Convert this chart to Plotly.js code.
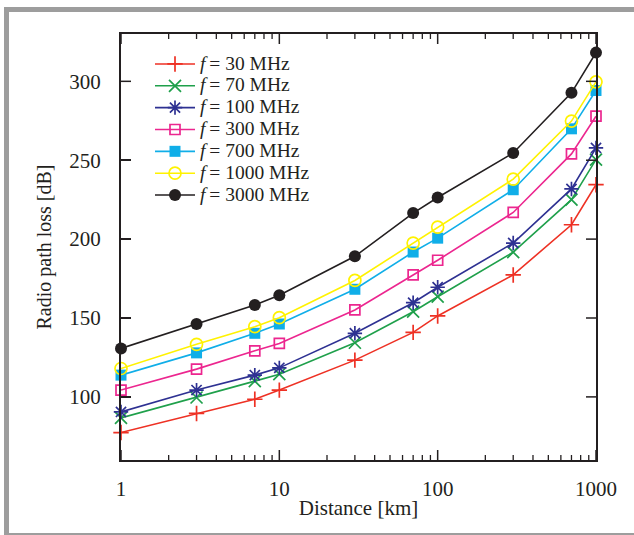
<!DOCTYPE html>
<html><head><meta charset="utf-8">
<script src="https://cdn.plot.ly/plotly-3.0.1.min.js"></script>
<style>html,body{margin:0;padding:0;background:#fff}#chart{width:634px;height:535px}</style>
</head><body><div id="chart"></div><script>
// ---- data ----
var distanceKm = [1, 3, 7, 10, 30, 70, 100, 300, 700, 1000];
var loss30MHz   = [77.4, 89.5, 98.5, 104.3, 123.3, 140.9, 151.3, 177.3, 209.1, 234.5];
var loss70MHz   = [86.7, 99.6, 110.0, 114.4, 134.3, 154.0, 163.5, 191.7, 225.0, 250.4];
var loss100MHz  = [90.5, 104.3, 113.8, 118.4, 140.3, 159.7, 169.5, 197.5, 231.8, 257.8];
var loss300MHz  = [104.3, 117.6, 129.2, 133.9, 155.1, 177.3, 186.6, 216.9, 254.0, 277.9];
var loss700MHz  = [113.8, 127.9, 140.3, 146.2, 168.2, 191.8, 200.6, 231.3, 269.9, 294.2];
var loss1000MHz = [118.0, 133.3, 144.5, 150.2, 173.8, 197.5, 207.6, 238.0, 274.8, 299.7];
var loss3000MHz = [130.7, 146.2, 158.3, 164.4, 189.1, 216.5, 226.4, 254.6, 292.7, 318.2];
var seriesLabels = ["30 MHz", "70 MHz", "100 MHz", "300 MHz", "700 MHz", "1000 MHz", "3000 MHz"];
var xTickVals = [1, 10, 100, 1000];
var xTickText = ["1", "10", "100", "1000"];
var yTickVals = [100, 150, 200, 250, 300];
var yTickText = ["100", "150", "200", "250", "300"];

// ---- styles ----
var seriesData = [loss30MHz, loss70MHz, loss100MHz, loss300MHz, loss700MHz, loss1000MHz, loss3000MHz];
var colors  = ["#ee3124", "#1fa04b", "#2e3192", "#ec268f", "#10aee8", "#fff200", "#231f20"];
var symbols = ["cross-thin-open", "x-thin-open", "asterisk-open", "square-open", "square", "circle-open", "circle"];
var sizes   = [11, 12, 12, 10, 11, 12, 12];

var FONT = "Liberation Serif, Times New Roman, serif";
var INK = "#231f20";
var traces = seriesData.map(function (ys, i) {
  var filled = (symbols[i] === "square" || symbols[i] === "circle");
  return {
    x: distanceKm, y: ys, type: "scatter", mode: "lines+markers", cliponaxis: false,
    name: '<span style="font-size:19.5px"><i>f</i>\u2009= ' + seriesLabels[i] + '</span>',
    line: {color: colors[i], width: 1.6},
    marker: {symbol: symbols[i], size: sizes[i], color: colors[i],
             line: {color: colors[i], width: filled ? 0 : 1.7}}
  };
});

// minor tick positions for the log axis (2..9 within each decade)
var minorVals = [];
[1, 10, 100].forEach(function (d) { for (var k = 2; k <= 9; k++) minorVals.push(d * k); });

// plot-area geometry in px (for the decorative page frame)
var W = 634, H = 535, L = 121, R = 38, T = 34, B = 75;
var pw = W - L - R, ph = H - T - B;
function px(x) { return (x - L) / pw; }
function py(y) { return (H - B - y) / ph; }
var frameColor = "#9d9d9d";

var shapes = [
  {type: "rect", xref: "paper", yref: "paper", x0: px(4), x1: px(640), y0: py(12), y1: py(7),
   fillcolor: frameColor, line: {width: 0}, layer: "below"},
  {type: "rect", xref: "paper", yref: "paper", x0: px(4), x1: px(9), y0: py(535), y1: py(7),
   fillcolor: frameColor, line: {width: 0}, layer: "below"},
  {type: "rect", xref: "paper", yref: "paper", x0: px(4), x1: px(640), y0: py(535), y1: py(533),
   fillcolor: frameColor, line: {width: 0}, layer: "below"}
];
// inward tick marks on all four sides, placed through the axes' own scales
function xTick(v, len, width) {
  [[0, len], [1, -len]].forEach(function (s) {
    shapes.push({type: "line", xref: "x", yref: "paper", x0: v, x1: v,
                 ysizemode: "pixel", yanchor: s[0], y0: 0, y1: s[1],
                 line: {color: INK, width: width}, layer: "above"});
  });
}
function yTick(v, len, width) {
  [[0, len], [1, -len]].forEach(function (s) {
    shapes.push({type: "line", yref: "y", xref: "paper", y0: v, y1: v,
                 xsizemode: "pixel", xanchor: s[0], x0: 0, x1: s[1],
                 line: {color: INK, width: width}, layer: "above"});
  });
}
xTickVals.forEach(function (v) { xTick(v, 10, 1.5); });
minorVals.forEach(function (v) { xTick(v, 5, 1.3); });
yTickVals.forEach(function (v) { yTick(v, 10, 1.5); });

var layout = {
  width: W, height: H,
  margin: {l: L, r: R, t: T, b: B},
  paper_bgcolor: "#ffffff", plot_bgcolor: "#ffffff",
  font: {family: FONT, size: 21, color: INK},
  showlegend: true,
  legend: {x: px(150), y: py(48), xanchor: "left", yanchor: "top", itemwidth: 40,
           bgcolor: "rgba(0,0,0,0)", borderwidth: 0,
           font: {family: FONT, size: 14.5, color: INK}},
  xaxis: {
    type: "log", range: [0, 3], tickmode: "array", tickvals: xTickVals, ticktext: xTickText,
    ticks: "inside", ticklen: 10, tickwidth: 1.5, tickcolor: INK,
    showline: true, linecolor: INK, linewidth: 2, mirror: true,
    showgrid: false, zeroline: false, ticklabelstandoff: 9,
    tickfont: {family: FONT, size: 21, color: INK},
    title: {text: "Distance [km]", font: {family: FONT, size: 21, color: INK}, standoff: 0}
  },
  yaxis: {
    range: [60, 330], tickmode: "array", tickvals: yTickVals, ticktext: yTickText,
    ticks: "inside", ticklen: 10, tickwidth: 1.5, tickcolor: INK,
    showline: true, linecolor: INK, linewidth: 2, mirror: true,
    showgrid: false, zeroline: false, ticklabelstandoff: 14,
    tickfont: {family: FONT, size: 21, color: INK},
    title: {text: "Radio path loss [dB]", font: {family: FONT, size: 20, color: INK}, standoff: 12}
  },
  shapes: shapes
};

Plotly.newPlot("chart", traces, layout, {displayModeBar: false, staticPlot: true});
</script></body></html>
